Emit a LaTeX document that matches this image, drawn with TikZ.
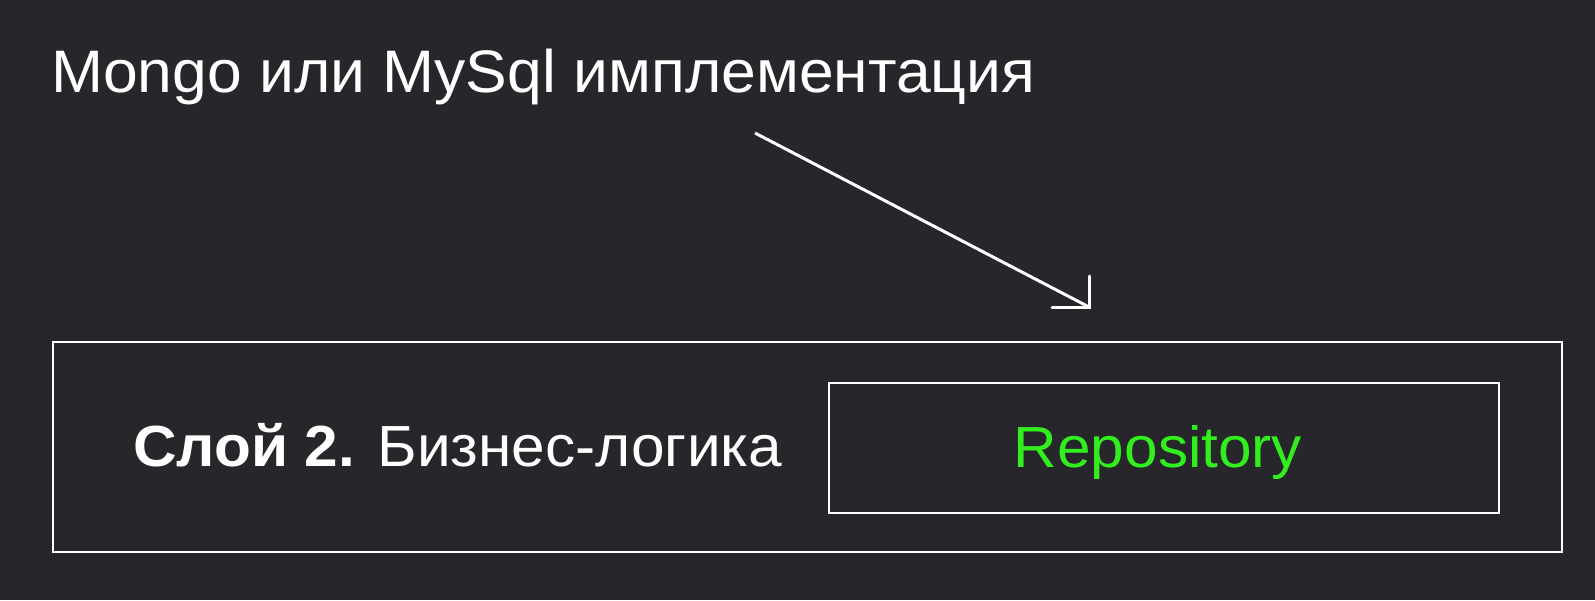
\documentclass[tikz,border=0pt]{standalone}
\usepackage{fontspec}
\setmainfont[FakeStretch=1.04]{Liberation Sans}
\definecolor{bg}{HTML}{26262B}
\definecolor{repogreen}{HTML}{33EE1E}
\begin{document}
\begin{tikzpicture}[x=1pt,y=-1pt,
  frame/.style={draw=white,line width=2.8pt},
  lbl/.style={text=white,inner sep=0pt,anchor=base west,font=\fontsize{60}{70}\selectfont},
  arrowline/.style={draw=white,line width=3pt}]
\fill[bg] (0,0) rectangle (1595,600);
\useasboundingbox (0,0) rectangle (1595,600);
\node[lbl] (top) at (51,92) {Mongo или MySql имплементация};
\draw[frame] (53,342) rectangle (1562,552);
\node[frame,minimum width=670pt,minimum height=130pt,inner sep=0pt] (repo) at (1164,448) {};
\node[text=repogreen,font=\fontsize{58}{70}\selectfont] (repotext) at (1158,452) {Repository};
\node[lbl,font=\fontsize{58}{70}\selectfont] (layer) at (133,466) {\textbf{Слой 2.} Бизнес-логика};
\coordinate (astart) at (755,133);
\coordinate (atip) at (1089,307);
\draw[arrowline] (astart) -- (atip);
\draw[arrowline,line cap=round,line join=miter] (1052,307) -- (atip) -- (1089,276);
\end{tikzpicture}
\end{document}
